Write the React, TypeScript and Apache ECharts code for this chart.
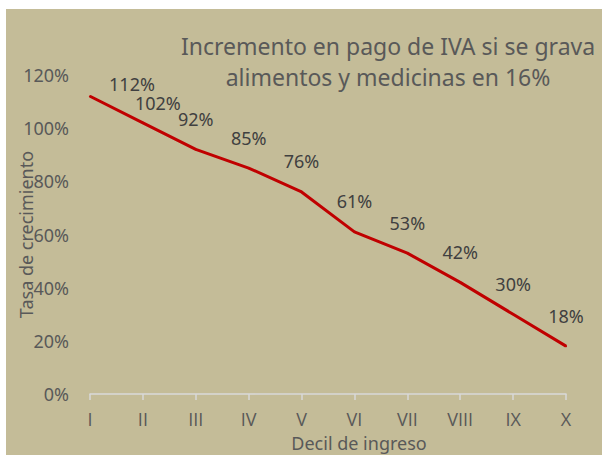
import React, { useEffect, useRef } from "react";
import * as echarts from "echarts";

const categories = ["I", "II", "III", "IV", "V", "VI", "VII", "VIII", "IX", "X"];
const values = [112, 102, 92, 85, 76, 61, 53, 42, 30, 18];
const labelOffsets: number[][] = [[42, 18], [15, 11], [0, 0], [0, 0], [0, 0], [0, 0], [0, 0], [0, 0], [0, 0], [0, 0]];
const titleLines = ["Incremento en pago de IVA si se grava", "alimentos y medicinas en 16%"];
const yAxisName = "Tasa de crecimiento";
const xAxisName = "Decil de ingreso";

const FONT = "Noto Sans";

export default function App() {
  const ref = useRef<HTMLDivElement>(null);
  useEffect(() => {
    const chart = echarts.init(ref.current!, undefined, { renderer: "svg" });
    chart.setOption({
      animation: false,
      backgroundColor: "#ffffff",
      textStyle: { fontFamily: FONT },
      graphic: [
        { type: "rect", z: -10, shape: { x: 6, y: 9, width: 596, height: 446 }, style: { fill: "#C4BC98" } },
        {
          type: "text",
          x: 388,
          y: 61,
          style: {
            text: titleLines.join("\n"),
            fill: "#595959",
            font: `23px "${FONT}"`,
            align: "center",
            verticalAlign: "middle",
            lineHeight: 31,
          },
        },
      ],
      grid: { left: 90, right: 36, top: 75, bottom: 61, outerBoundsMode: "none", containLabel: false },
      xAxis: {
        type: "category",
        data: categories,
        boundaryGap: false,
        axisLine: { lineStyle: { color: "#D9D9D9", width: 1.5 } },
        axisTick: { show: true, length: 6, lineStyle: { color: "#D9D9D9", width: 1.5 } },
        axisLabel: { color: "#595959", fontSize: 18, margin: 16, fontFamily: "Open Sans" },
        name: xAxisName,
        nameLocation: "middle",
        nameGap: 40,
        nameMoveOverlap: false,
        nameTextStyle: { color: "#595959", fontSize: 18, fontFamily: FONT, padding: [0, 0, 0, 62] },
      },
      yAxis: {
        type: "value",
        min: 0,
        max: 120,
        interval: 20,
        splitLine: { show: false },
        axisLine: { show: false },
        axisTick: { show: false },
        axisLabel: { color: "#595959", fontSize: 18, margin: 21, formatter: "{value}%", fontFamily: FONT },
        name: yAxisName,
        nameLocation: "middle",
        nameGap: 55,
        nameMoveOverlap: false,
        nameTextStyle: { color: "#595959", fontSize: 18, fontFamily: FONT },
      },
      series: [
        {
          type: "line",
          data: values.map((v, i) => ({
            value: v,
            label: { offset: labelOffsets[i] },
          })),
          symbol: "circle",
          symbolSize: 2,
          showSymbol: true,
          itemStyle: { color: "#C00000" },
          lineStyle: { color: "#C00000", width: 3 },
          label: {
            show: true,
            position: "top",
            distance: 22,
            formatter: "{c}%",
            color: "#404040",
            fontSize: 18,
            lineHeight: 15,
            fontFamily: FONT,
          },
        },
      ],
    });
    return () => chart.dispose();
  }, []);
  return (
    <div
      ref={ref}
      style={{ position: "fixed", left: 0, top: 0, width: 602, height: 455 }}
    />
  );
}
